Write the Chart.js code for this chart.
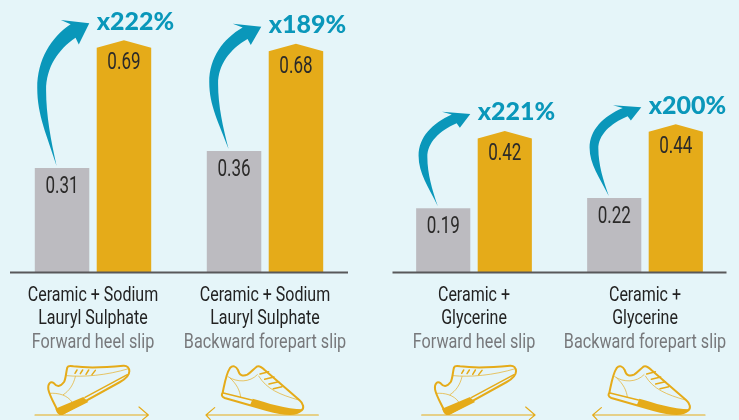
<!DOCTYPE html>
<html>
<head>
<meta charset="utf-8">
<style>
html, body { margin: 0; padding: 0; background: #e5f5f9; overflow: hidden; }
canvas { position: absolute; top: 0; }
#leftChart { left: 0; }
#rightChart { left: 370px; }
</style>
<script src="https://cdn.jsdelivr.net/npm/chart.js@4"></script>
</head>
<body>
<canvas id="leftChart" width="370" height="420"></canvas>
<canvas id="rightChart" width="369" height="420"></canvas>
<script>
var leftCategories = [["Ceramic + Sodium", "Lauryl Sulphate"], ["Ceramic + Sodium", "Lauryl Sulphate"]];
var rightCategories = [["Ceramic +", "Glycerine"], ["Ceramic +", "Glycerine"]];
var slipTypes = ["Forward heel slip", "Backward forepart slip"];

var leftGray = [0.31, 0.36];
var leftGold = [0.69, 0.68];
var rightGray = [0.19, 0.22];
var rightGold = [0.42, 0.44];

var leftIncrease = ["x222%", "x189%"];
var rightIncrease = ["x221%", "x200%"];

var GRAY = "#bcbbc0";
var GOLD = "#e5ab19";
var BLUE = "#0a97ba";

// shoe outlines, traced at 3x
var forwardShoe = new Path2D("M82 150 C70 125 58 105 55 88 C53 70 62 62 72 70 C80 80 90 82 102 66 C108 56 108 35 112 22 C114 17 120 17 130 19 C170 24 230 22 280 17 C292 16 298 24 298 34 C298 48 285 58 270 66 L100 160 C92 164 84 160 82 150 Z");
var forwardThin = new Path2D("M110 47 C160 52 230 46 296 26 M136 50 C130 75 118 92 100 104 M58 100 C85 98 112 105 126 126");
var forwardLaces = new Path2D("M135 40 L141 30 M151 41 L158 30 M168 43 L176 30 M186 44 L196 31 M165 112 L292 44");
var forwardSole = new Path2D("M76 146 L160 111 L175 126 L97 165 C86 167 80 158 76 146 Z");
var forwardArrow = new Path2D("M15 165 L355 165 M327 141 L355 165 L338 179");

var backwardShoe = new Path2D("M68 98 C74 70 78 42 90 24 C98 15 108 18 114 30 C118 46 128 50 142 44 C152 38 160 28 170 20 C178 15 186 22 194 30 L298 120 C310 130 314 145 304 152 C290 166 250 164 200 150 L74 114 C64 110 64 104 68 98 Z");
var backwardThin = new Path2D("M84 50 C110 68 150 68 172 44 M90 54 C110 72 120 92 122 112 M176 48 C200 88 240 104 296 120");
var backwardLaces = new Path2D("M180 42 L206 35 M194 58 L222 51 M207 72 L236 65 M220 86 L246 80 M70 99 L155 120");
var backwardSole = new Path2D("M158 116 C200 128 260 148 308 148 C292 168 250 167 150 136 Z");
var backwardArrow = new Path2D("M355 165 L18 165 M44 143 L18 165 L31 179");

// none of the installed fonts is compressed enough, so squeeze the text sideways
function narrowText(ctx, text, x, y, font, color, squeeze) {
    ctx.save();
    ctx.translate(x, y);
    ctx.scale(squeeze, 1);
    ctx.font = font;
    ctx.fillStyle = color;
    ctx.textAlign = "center";
    ctx.textBaseline = "alphabetic";
    ctx.fillText(text, 0, 0);
    ctx.restore();
}

function drawShoe(ctx, x, backward) {
    ctx.save();
    ctx.translate(x, 360);
    ctx.scale(1 / 3, 1 / 3);
    ctx.strokeStyle = GOLD;
    ctx.fillStyle = GOLD;
    ctx.lineJoin = "round";
    ctx.lineCap = "round";
    ctx.lineWidth = 6;
    ctx.stroke(backward ? backwardShoe : forwardShoe);
    ctx.lineWidth = 4.5;
    ctx.stroke(backward ? backwardLaces : forwardLaces);
    ctx.lineWidth = 3.5;
    ctx.stroke(backward ? backwardArrow : forwardArrow);
    ctx.lineWidth = 2;
    ctx.stroke(backward ? backwardThin : forwardThin);
    ctx.fill(backward ? backwardSole : forwardSole);
    ctx.restore();
}

// curved arrow, outline measured on the first one and stretched from tail to tip
function drawArrow(ctx, tx, ty, hx, hy) {
    function px(x) { return tx + (x - 55.7) / 33.3 * (hx - tx); }
    function py(y) { return ty + (165 - y) / 141 * (hy - ty); }
    ctx.beginPath();
    ctx.moveTo(px(55.7), py(165));
    ctx.bezierCurveTo(px(46), py(135), px(36), py(115), px(36), py(88));
    ctx.bezierCurveTo(px(36), py(60), px(50), py(38), px(70), py(25));
    ctx.lineTo(px(60), py(20.7));
    ctx.lineTo(px(89), py(24));
    ctx.lineTo(px(78.3), py(45));
    ctx.lineTo(px(75), py(38.3));
    ctx.bezierCurveTo(px(57), py(50), px(45), py(68), px(45), py(90));
    ctx.bezierCurveTo(px(45), py(115), px(50), py(140), px(55.7), py(165));
    ctx.closePath();
    ctx.fillStyle = BLUE;
    ctx.fill();
}

var barExtras = {
    id: "barExtras",
    beforeDatasetDraw: function (chart, args) {
        // gold bars have a pointed roof, the value sits at the apex
        if (args.index !== 1) return;
        var ctx = chart.ctx;
        args.meta.data.forEach(function (el) {
            var half = el.width / 2;
            ctx.beginPath();
            ctx.moveTo(el.x - half, el.base);
            ctx.lineTo(el.x - half, el.y + 7.5);
            ctx.lineTo(el.x, el.y);
            ctx.lineTo(el.x + half, el.y + 7.5);
            ctx.lineTo(el.x + half, el.base);
            ctx.closePath();
            ctx.fillStyle = GOLD;
            ctx.fill();
        });
        return false;
    },
    afterDraw: function (chart, args, opts) {
        var ctx = chart.ctx;
        var area = chart.chartArea;
        var gray = chart.getDatasetMeta(0).data;
        var gold = chart.getDatasetMeta(1).data;

        ctx.save();
        ctx.strokeStyle = "#58585a";
        ctx.lineWidth = 2;
        ctx.beginPath();
        ctx.moveTo(area.left + opts.axisInset, area.bottom + 0.5);
        ctx.lineTo(area.right - opts.axisInset, area.bottom + 0.5);
        ctx.stroke();

        var numberFont = "23px Roboto, sans-serif";
        chart.data.datasets.forEach(function (ds, d) {
            var bars = d === 0 ? gray : gold;
            bars.forEach(function (el, i) {
                narrowText(ctx, ds.data[i].toFixed(2), el.x, el.y + (d === 0 ? 25 : 29), numberFont, "#2b2a29", 0.74);
            });
        });

        gray.forEach(function (el, i) {
            var top = gold[i];
            drawArrow(ctx, el.x - el.width * 0.1, el.y - 2, el.x + el.width / 2, top.y - 17);
            ctx.font = "900 25px Lato, sans-serif";
            ctx.textAlign = "left";
            ctx.textBaseline = "alphabetic";
            ctx.fillStyle = BLUE;
            ctx.fillText(opts.increase[i], top.x - top.width / 2, top.y - 10.5);

            var x = chart.scales.x.getPixelForTick(i);
            var lines = chart.data.labels[i];
            narrowText(ctx, lines[0], x, 301, "20px Roboto, sans-serif", "#222222", 0.8);
            narrowText(ctx, lines[1], x, 324, "20px Roboto, sans-serif", "#222222", 0.8);
            narrowText(ctx, slipTypes[i], x, 348, "20px Roboto, sans-serif", "#77787b", 0.81);
            drawShoe(ctx, x + opts.shoeShift[i], i === 1);
        });
        ctx.restore();
    }
};

function makeChart(id, categories, gray, gold, increase, padding, shoeShift, axisInset) {
    new Chart(document.getElementById(id), {
        type: "bar",
        data: {
            labels: categories,
            datasets: [
                { data: gray, backgroundColor: GRAY, barPercentage: 0.88, categoryPercentage: 0.72 },
                { data: gold, backgroundColor: GOLD, barPercentage: 0.88, categoryPercentage: 0.72 }
            ]
        },
        options: {
            responsive: false,
            animation: false,
            layout: { padding: padding },
            plugins: {
                legend: { display: false },
                tooltip: { enabled: false },
                barExtras: { increase: increase, shoeShift: shoeShift, axisInset: axisInset }
            },
            scales: {
                y: { display: false, min: 0, max: 0.81 },
                x: {
                    border: { display: false },
                    grid: { display: false },
                    ticks: { display: false }
                }
            }
        },
        plugins: [barExtras]
    });
}

makeChart("leftChart", leftCategories, leftGray, leftGold, leftIncrease,
    { left: 7, right: 19, top: 0, bottom: 140 }, [-63, -65], 3);
makeChart("rightChart", rightCategories, rightGray, rightGold, rightIncrease,
    { left: 18.5, right: 8.5, top: 0, bottom: 140 }, [-57.3, -58.3], 4);
</script>
</body>
</html>
